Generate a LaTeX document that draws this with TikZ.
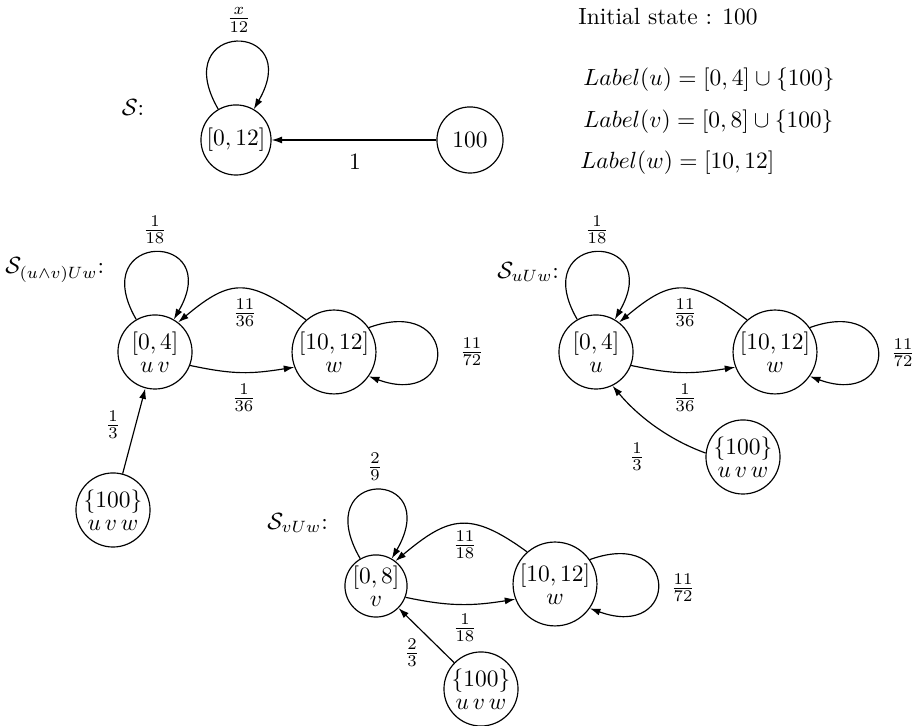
\documentclass[tikz,border=0pt]{standalone}
\usetikzlibrary{arrows.meta}
\begin{document}
\begin{tikzpicture}[x=0.4267pt,y=0.4267pt,
  st/.style={circle,draw,line width=0.5pt,inner sep=0pt,align=center},
  arr/.style={-{Latex[length=4.5pt,width=3pt]},line width=0.5pt},
  lbl/.style={inner sep=0pt}]
\useasboundingbox (0,0) rectangle (917,726);
% ---- S ----
\node[lbl] (sS) at (133,618) {$\mathcal{S}$:};
\node[st,minimum size=29.9pt] (A) at (236,586) {$[0,12]$};
\node[st,minimum size=28.2pt] (B) at (470,586) {$100$};
\draw[arr] (A.120) to[out=120,in=60,distance=44pt] (A.60);
\node[lbl] (lA) at (239,706) {$\frac{x}{12}$};
\draw[arr] (B) -- (A);
\node[lbl] (lAB) at (355,564) {$1$};
\node[lbl,anchor=west] (init) at (578,709) {Initial state : 100};
\node[lbl,anchor=west] (labu) at (583,646) {$Label(u)=[0,4]\cup\{100\}$};
\node[lbl,anchor=west] (labv) at (583,604) {$Label(v)=[0,8]\cup\{100\}$};
\node[lbl,anchor=west] (labw) at (580,563) {$Label(w)=[10,12]$};
% ---- S_(u^v)Uw ----
\node[lbl,anchor=west] (sC) at (5,456) {$\mathcal{S}_{(u\wedge v)U w}$:};
\node[st,minimum size=31.6pt] (C1) at (155,374) {\shortstack{$[0,4]$\\$u\,v$}};
\node[st,minimum size=35.8pt] (C2) at (334,374) {\shortstack{$[10,12]$\\$w$}};
\node[st,minimum size=31.6pt] (C3) at (113,216) {\shortstack{$\{100\}$\\$u\,v\,w$}};
\draw[arr] (C1.120) to[out=120,in=60,distance=44pt] (C1.60);
\draw[arr] (C2.35) to[out=20,in=-20,distance=41pt] (C2.-35);
\draw[arr] (C2.131) to[out=144,in=40,distance=30pt] (C1.52);
\draw[arr] (C1.-21) to[out=-12,in=189,distance=19pt] (C2.201);
\draw[arr] (C3) -- (C1);
\node[lbl] (lC1) at (155,496) {$\frac{1}{18}$};
\node[lbl] (lC21) at (245,413) {$\frac{11}{36}$};
\node[lbl] (lC12) at (244,328) {$\frac{1}{36}$};
\node[lbl] (lC2) at (472,374) {$\frac{11}{72}$};
\node[lbl] (lC31) at (113,301) {$\frac{1}{3}$};
% ---- S_uUw ----
\node[lbl,anchor=west] (sD) at (497,454) {$\mathcal{S}_{uU w}$:};
\node[st,minimum size=31.6pt] (D1) at (596,374) {\shortstack{$[0,4]$\\$u$}};
\node[st,minimum size=35.8pt] (D2) at (775,374) {\shortstack{$[10,12]$\\$w$}};
\node[st,minimum size=31.6pt] (D3) at (743,269) {\shortstack{$\{100\}$\\$u\,v\,w$}};
\draw[arr] (D1.120) to[out=120,in=60,distance=44pt] (D1.60);
\draw[arr] (D2.35) to[out=20,in=-20,distance=41pt] (D2.-35);
\draw[arr] (D2.131) to[out=144,in=40,distance=30pt] (D1.52);
\draw[arr] (D1.-21) to[out=-12,in=189,distance=19pt] (D2.201);
\draw[arr] (D3.174) to[out=160,in=-50,distance=17pt] (D1.-64);
\node[lbl] (lD1) at (597,496) {$\frac{1}{18}$};
\node[lbl] (lD21) at (685,413) {$\frac{11}{36}$};
\node[lbl] (lD12) at (685,328) {$\frac{1}{36}$};
\node[lbl] (lD2) at (903,373) {$\frac{11}{72}$};
\node[lbl] (lD31) at (637,269) {$\frac{1}{3}$};
% ---- S_vUw ----
\node[lbl,anchor=west] (sE) at (267,203) {$\mathcal{S}_{vU w}$:};
\node[st,minimum size=26.5pt] (E1) at (376,140) {\shortstack{$[0,8]$\\$v$}};
\node[st,minimum size=35.8pt] (E2) at (555,142) {\shortstack{$[10,12]$\\$w$}};
\node[st,minimum size=31.6pt] (E3) at (481,37) {\shortstack{$\{100\}$\\$u\,v\,w$}};
\draw[arr] (E1.120) to[out=120,in=60,distance=45pt] (E1.60);
\draw[arr] (E2.35) to[out=20,in=-20,distance=41pt] (E2.-35);
\draw[arr] (E2.131) to[out=144,in=40,distance=30pt] (E1.52);
\draw[arr] (E1.-21) to[out=-12,in=189,distance=19pt] (E2.201);
\draw[arr] (E3) -- (E1);
\node[lbl] (lE1) at (375,259) {$\frac{2}{9}$};
\node[lbl] (lE21) at (465,181) {$\frac{11}{18}$};
\node[lbl] (lE12) at (465,98) {$\frac{1}{18}$};
\node[lbl] (lE2) at (683,138) {$\frac{11}{72}$};
\node[lbl] (lE31) at (412,73) {$\frac{2}{3}$};
\end{tikzpicture}
\end{document}
